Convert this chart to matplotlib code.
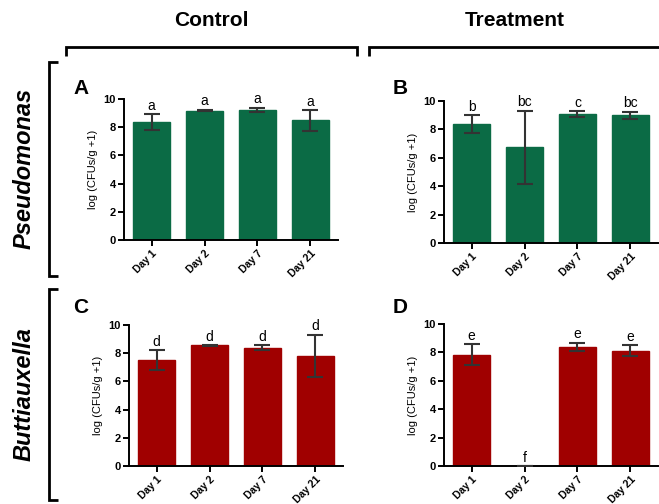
import matplotlib
matplotlib.use("Agg")
from matplotlib import pyplot as plt
from matplotlib.lines import Line2D

plt.rcParams['font.family'] = ['Liberation Sans', 'DejaVu Sans']

days = ['Day 1', 'Day 2', 'Day 7', 'Day 21']

# log (CFUs/g +1), mean and SD
pseudo_control = [8.35, 9.18, 9.22, 8.48]
pseudo_control_sd = [0.58, 0.05, 0.17, 0.72]
pseudo_treat = [8.40, 6.75, 9.07, 8.98]
pseudo_treat_sd = [0.62, 2.58, 0.23, 0.28]
butti_control = [7.52, 8.55, 8.39, 7.82]
butti_control_sd = [0.70, 0.03, 0.17, 1.50]
butti_treat = [7.85, 0.0, 8.40, 8.13]
butti_treat_sd = [0.71, 0.0, 0.27, 0.37]

letters_a = ['a', 'a', 'a', 'a']
letters_b = ['b', 'bc', 'c', 'bc']
letters_c = ['d', 'd', 'd', 'd']
letters_d = ['e', 'f', 'e', 'e']

green = '#0b6b45'
red = '#a00000'

W, H = 659, 504
fig = plt.figure(figsize=(W / 100, H / 100), dpi=100)


def px_axes(x0, y0, x1, y1):
    # pixel box (top-left origin) -> figure fraction
    return fig.add_axes([x0 / W, 1 - y1 / H, (x1 - x0) / W, (y1 - y0) / H])


def bar_panel(ax, vals, sds, letters, color):
    xs = range(len(days))
    ax.bar(xs, vals, width=0.70, color=color, edgecolor=color, zorder=2)
    ax.errorbar(xs, vals, yerr=sds, fmt='none', ecolor='#333333',
                elinewidth=1.5, capsize=5.5, capthick=1.5, zorder=3)
    for x, v, s, t in zip(xs, vals, sds, letters):
        ax.annotate(t, (x, v + s), xytext=(0, 1), textcoords='offset points',
                    ha='center', va='bottom', fontsize=10)
    ax.set_xlim(-0.52, 3.52)
    ax.set_ylim(0, 10)
    ax.set_yticks([0, 2, 4, 6, 8, 10])
    ax.set_xticks(list(xs))
    ax.set_xticklabels(days, rotation=45, ha='right', rotation_mode='anchor',
                       fontsize=7.5, fontweight='bold')
    for lab in ax.get_yticklabels():
        lab.set_fontsize(8)
        lab.set_fontweight('bold')
    ax.set_ylabel('log (CFUs/g +1)', fontsize=8, labelpad=4)
    ax.spines['top'].set_visible(False)
    ax.spines['right'].set_visible(False)
    ax.spines['left'].set_linewidth(1.4)
    ax.spines['bottom'].set_linewidth(1.4)
    ax.tick_params(width=1.4, length=4, pad=2)


axA = px_axes(124, 99, 338, 240)
axB = px_axes(444, 101, 658, 243)
axC = px_axes(129, 325, 343, 466)
axD = px_axes(444, 324, 658, 466)

bar_panel(axA, pseudo_control, pseudo_control_sd, letters_a, green)
bar_panel(axB, pseudo_treat, pseudo_treat_sd, letters_b, green)
bar_panel(axC, butti_control, butti_control_sd, letters_c, red)
bar_panel(axD, butti_treat, butti_treat_sd, letters_d, red)

# panel letters
for t, x, y in [('A', 73, 94), ('B', 393, 94), ('C', 73, 313), ('D', 393, 313)]:
    fig.text(x / W, 1 - y / H, t, fontsize=15, fontweight='bold',
             ha='left', va='baseline')

# column headers
fig.text(211 / W, 1 - 21 / H, 'Control', fontsize=15, fontweight='bold',
         ha='center', va='center')
fig.text(515 / W, 1 - 21 / H, 'Treatment', fontsize=15, fontweight='bold',
         ha='center', va='center')

# row headers
fig.text(24 / W, 1 - 168 / H, 'Pseudomonas', fontsize=17, fontweight='bold',
         fontstyle='italic', rotation=90, ha='center', va='center')
fig.text(24 / W, 1 - 394 / H, 'Buttiauxella', fontsize=17, fontweight='bold',
         fontstyle='italic', rotation=90, ha='center', va='center')


def fline(xs, ys):
    fig.add_artist(Line2D([x / W for x in xs], [1 - y / H for y in ys],
                          color='black', lw=2, solid_capstyle='butt',
                          solid_joinstyle='miter'))


# brackets
fline([66, 66, 357, 357], [56, 47, 47, 56])
fline([369, 369, 660], [56, 47, 47])
fline([58, 49, 49, 58], [62, 62, 276, 276])
fline([58, 49, 49, 58], [289, 289, 500, 500])

fig.savefig('out.png', dpi=100)
